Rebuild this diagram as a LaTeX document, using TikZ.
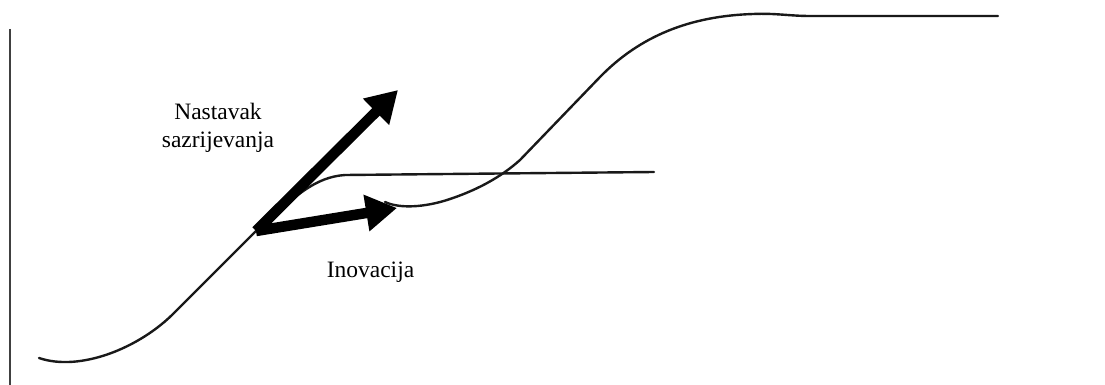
\documentclass[tikz,border=0pt]{standalone}
\usepackage{fontspec}
\setmainfont{Liberation Serif}
\usetikzlibrary{arrows.meta}
\begin{document}
\begin{tikzpicture}[x=1pt,y=-1pt,
  curve/.style={line width=2.4pt,draw=black!90,line cap=round,line join=round},
  axisline/.style={line width=1.5pt,draw=black!75},
  bigarrow/.style={line width=10.5pt,-{Triangle[length=31pt,width=35pt]}},
  lbl/.style={font=\fontsize{23.5}{27}\selectfont,inner sep=0pt,anchor=base}]
\useasboundingbox (0,0) rectangle (1105,385);
% axis
\coordinate (axtop) at (10,29);
\coordinate (axbot) at (10,385);
\draw[axisline] (axtop) -- (axbot);
% first S-curve
\coordinate (c0) at (39,358);
\coordinate (c1) at (175,312);
\coordinate (origin) at (256,231);
\coordinate (c3) at (345,175);
\coordinate (c4) at (654,172);
\draw[curve] (c0) .. controls (80,372) and (140,348) .. (c1)
  -- (origin) .. controls (295,196) and (315,177) .. (c3) -- (c4);
% second S-curve
\coordinate (d0) at (385,202);
\coordinate (d1) at (447,200);
\coordinate (d2) at (520,160);
\coordinate (d3) at (600,77);
\coordinate (d4) at (753,14);
\coordinate (d5) at (810,16);
\coordinate (d6) at (998,16);
\draw[curve] (d0) .. controls (400,209) and (425,207) .. (d1)
  .. controls (475,191) and (500,178) .. (d2) -- (d3)
  .. controls (640,36) and (690,16) .. (d4)
  .. controls (775,13) and (790,16) .. (d5) -- (d6);
% arrows
\coordinate (tipA) at (398,90);
\coordinate (tipB) at (397,208);
\draw[bigarrow] (origin) -- (tipA);
\draw[bigarrow] (origin) -- (tipB);
% labels
\node[lbl] (nast1) at (218,120) {Nastavak};
\node[lbl] (nast2) at (218,147) {sazrijevanja};
\node[lbl] (inov) at (370.5,277) {Inovacija};
\end{tikzpicture}
\end{document}
